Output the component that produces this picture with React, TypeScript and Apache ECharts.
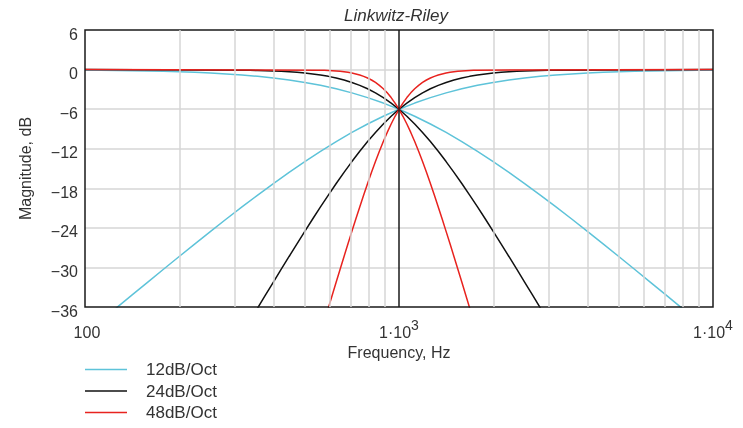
import React, { useEffect, useRef } from 'react';
import * as echarts from 'echarts';

// ---- data ----
const seriesNames = ['12dB/Oct', '24dB/Oct', '48dB/Oct'];
const seriesColors = ['#5ec3d9', '#111111', '#e8231f'];

// 12 dB/Oct (LR2)
const lr2Freq = [100, 112.2, 125.9, 141.3, 158.5, 177.8, 199.5, 223.9, 251.2, 281.8, 316.2, 354.8, 398.1, 446.7, 501.2, 562.3, 631.0, 707.9, 794.3, 891.3, 1000, 1122, 1259, 1413, 1585, 1778, 1995, 2239, 2512, 2818, 3162, 3548, 3981, 4467, 5012, 5623, 6310, 7079, 7943, 8913, 10000];
const lr2Low = [-0.09, -0.11, -0.14, -0.17, -0.22, -0.27, -0.34, -0.42, -0.53, -0.66, -0.83, -1.03, -1.28, -1.58, -1.95, -2.39, -2.91, -3.53, -4.25, -5.08, -6.02, -7.08, -8.25, -9.53, -10.91, -12.39, -13.95, -15.58, -17.28, -19.03, -20.83, -22.66, -24.53, -26.42, -28.34, -30.27, -32.22, -34.17, -36.14, -38.11, -40.09];
const lr2High = [-40.09, -38.11, -36.14, -34.17, -32.22, -30.27, -28.34, -26.42, -24.53, -22.66, -20.83, -19.03, -17.28, -15.58, -13.95, -12.39, -10.91, -9.53, -8.25, -7.08, -6.02, -5.08, -4.25, -3.53, -2.91, -2.39, -1.95, -1.58, -1.28, -1.03, -0.83, -0.66, -0.53, -0.42, -0.34, -0.27, -0.22, -0.17, -0.14, -0.11, -0.09];

// 24 dB/Oct (LR4)
const lr4Freq = [100, 316.2, 335.0, 354.8, 375.8, 398.1, 421.7, 446.7, 473.2, 501.2, 530.9, 562.3, 595.7, 631.0, 668.3, 707.9, 749.9, 794.3, 841.4, 891.3, 944.1, 1000, 1059.3, 1122.0, 1188.5, 1258.9, 1333.5, 1412.5, 1496.2, 1584.9, 1678.8, 1778.3, 1883.6, 1995.3, 2113.5, 2238.7, 2371.4, 2511.9, 2660.7, 2818.4, 2985.4, 3162.3, 10000];
const lr4Low = [0, -0.09, -0.11, -0.14, -0.17, -0.22, -0.27, -0.34, -0.42, -0.53, -0.66, -0.83, -1.03, -1.28, -1.58, -1.95, -2.39, -2.91, -3.53, -4.25, -5.08, -6.02, -7.08, -8.25, -9.53, -10.91, -12.39, -13.95, -15.58, -17.28, -19.03, -20.83, -22.66, -24.53, -26.42, -28.34, -30.27, -32.22, -34.17, -36.14, -38.11, -40.09, -80];
const lr4High = [-80, -40.09, -38.11, -36.14, -34.17, -32.22, -30.27, -28.34, -26.42, -24.53, -22.66, -20.83, -19.03, -17.28, -15.58, -13.95, -12.39, -10.91, -9.53, -8.25, -7.08, -6.02, -5.08, -4.25, -3.53, -2.91, -2.39, -1.95, -1.58, -1.28, -1.03, -0.83, -0.66, -0.53, -0.42, -0.34, -0.27, -0.22, -0.17, -0.14, -0.11, -0.09, 0];

// 48 dB/Oct (LR8)
const lr8Freq = [100, 562.3, 578.8, 595.7, 613.1, 631.0, 649.4, 668.3, 687.9, 707.9, 728.6, 749.9, 771.8, 794.3, 817.5, 841.4, 866.0, 891.3, 917.3, 944.1, 971.6, 1000, 1029.2, 1059.3, 1090.2, 1122.0, 1154.8, 1188.5, 1223.2, 1258.9, 1295.7, 1333.5, 1372.5, 1412.5, 1453.8, 1496.2, 1539.9, 1584.9, 1631.2, 1678.8, 1727.8, 1778.3, 10000];
const lr8Low = [0, -0.09, -0.11, -0.14, -0.17, -0.22, -0.27, -0.34, -0.42, -0.53, -0.66, -0.83, -1.03, -1.28, -1.58, -1.95, -2.39, -2.91, -3.53, -4.25, -5.08, -6.02, -7.08, -8.25, -9.53, -10.91, -12.39, -13.95, -15.58, -17.28, -19.03, -20.83, -22.66, -24.53, -26.42, -28.34, -30.27, -32.22, -34.17, -36.14, -38.11, -40.09, -160];
const lr8High = [-160, -40.09, -38.11, -36.14, -34.17, -32.22, -30.27, -28.34, -26.42, -24.53, -22.66, -20.83, -19.03, -17.28, -15.58, -13.95, -12.39, -10.91, -9.53, -8.25, -7.08, -6.02, -5.08, -4.25, -3.53, -2.91, -2.39, -1.95, -1.58, -1.28, -1.03, -0.83, -0.66, -0.53, -0.42, -0.34, -0.27, -0.22, -0.17, -0.14, -0.11, -0.09, 0];

// axes
const xTickValues = [100, 1000, 10000];
const xTickBase = ['100', '1·10', '1·10'];
const xTickSup = ['', '3', '4'];
const minorFreqs = [200, 300, 400, 500, 600, 700, 800, 900, 2000, 3000, 4000, 5000, 6000, 7000, 8000, 9000];
const crossoverFreq = 1000;

const FONT = '"Liberation Sans", Arial, Helvetica, sans-serif';
const TEXT = '#333333';
const GRID = '#d6d6d6';
const BORDER = '#1a1a1a';

function pairs(f: number[], v: number[]) {
  return f.map((x, i) => [x, v[i]]);
}

function curve(name: string, color: string, f: number[], v: number[]) {
  return {
    name,
    type: 'line',
    data: pairs(f, v),
    symbol: 'none',
    showSymbol: false,
    clip: true,
    z: 3,
    lineStyle: { color, width: 1.5 },
    itemStyle: { color },
  };
}

export default function App() {
  const ref = useRef<HTMLDivElement>(null);
  useEffect(() => {
    if (!ref.current) return;
    const chart = echarts.init(ref.current, null, { renderer: 'svg' });
    const option: any = {
      animation: false,
      textStyle: { fontFamily: FONT },
      title: {
        text: 'Linkwitz-Riley',
        left: 391,
        textAlign: 'center',
        top: 2,
        textStyle: { fontFamily: FONT, fontSize: 17, fontStyle: 'italic', fontWeight: 'normal', color: TEXT },
      },
      grid: {
        left: 85, right: 30, top: 30, bottom: 121,
        show: true, borderColor: BORDER, borderWidth: 1.5, backgroundColor: 'transparent', z: 4,
      },
      legend: {
        data: seriesNames.map((n) => ({ name: n, icon: 'rect' })),
        orient: 'vertical',
        left: 80,
        top: 356,
        height: 72,
        itemWidth: 42,
        itemHeight: 1.5,
        itemGap: 4.5,
        selectedMode: false,
        textStyle: { fontFamily: FONT, fontSize: 17, color: TEXT, lineHeight: 17, padding: [0, 0, 0, 14] },
      },
      xAxis: {
        type: 'log',
        logBase: 10,
        min: 100,
        max: 10000,
        name: 'Frequency, Hz',
        nameLocation: 'middle',
        nameGap: 31,
        nameTextStyle: { fontFamily: FONT, fontSize: 16, color: TEXT },
        axisLine: { show: false },
        axisTick: { show: false },
        splitLine: { show: false },
        axisLabel: {
          margin: 3,
          color: TEXT,
          fontFamily: FONT,
          formatter: (v: number) => {
            const idx = xTickValues.findIndex((t) => Math.abs(t - v) / t < 1e-6);
            if (idx < 0) return '';
            if (!xTickSup[idx]) return '{s| }{b|' + xTickBase[idx] + '}';
            return '{b|' + xTickBase[idx] + '}{s|' + xTickSup[idx] + '}';
          },
          rich: {
            b: { fontFamily: FONT, fontSize: 16, color: TEXT, lineHeight: 16, verticalAlign: 'bottom' },
            s: { fontFamily: FONT, fontSize: 14, color: TEXT, lineHeight: 30, verticalAlign: 'middle' },
          },
        },
      },
      yAxis: {
        type: 'value',
        min: -36,
        max: 6,
        interval: 6,
        name: 'Magnitude, dB',
        nameLocation: 'middle',
        nameGap: 52,
        nameTextStyle: { fontFamily: FONT, fontSize: 16, color: TEXT },
        axisLine: { show: false },
        axisTick: { show: false },
        splitLine: { show: true, showMinLine: false, showMaxLine: false, lineStyle: { color: GRID, width: 1.5 } },
        axisLabel: {
          margin: 7,
          fontFamily: FONT,
          fontSize: 16,
          color: TEXT,
          verticalAlign: 'top',
          lineHeight: 8,
          formatter: (v: number) => String(v).replace('-', '\u2212'),
        },
      },
      series: [
        {
          name: '__grid',
          type: 'line',
          data: [],
          z: 1,
          silent: true,
          markLine: {
            silent: true,
            symbol: 'none',
            label: { show: false },
            animation: false,
            data: [
              ...minorFreqs.map((f) => ({ xAxis: f, lineStyle: { color: GRID, width: 1.5, type: 'solid' } })),
              { xAxis: crossoverFreq, lineStyle: { color: BORDER, width: 1.5, type: 'solid' } },
            ],
          },
        },
        curve(seriesNames[0], seriesColors[0], lr2Freq, lr2Low),
        curve(seriesNames[0], seriesColors[0], lr2Freq, lr2High),
        curve(seriesNames[1], seriesColors[1], lr4Freq, lr4Low),
        curve(seriesNames[1], seriesColors[1], lr4Freq, lr4High),
        curve(seriesNames[2], seriesColors[2], lr8Freq, lr8Low),
        curve(seriesNames[2], seriesColors[2], lr8Freq, lr8High),
      ],
    };
    chart.setOption(option);
    return () => chart.dispose();
  }, []);
  return <div ref={ref} style={{ position: 'fixed', left: 0, top: 0, width: 743, height: 428 }} />;
}
